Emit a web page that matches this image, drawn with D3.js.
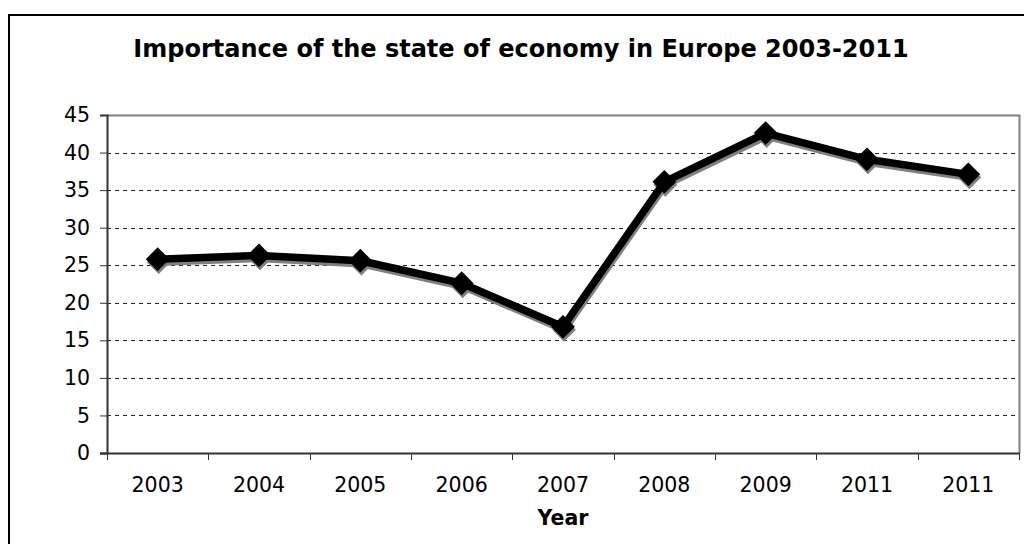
<!DOCTYPE html>
<html>
<head>
<meta charset="utf-8">
<script src="https://cdn.jsdelivr.net/npm/d3@7"></script>
<style>
  html, body { margin: 0; padding: 0; background: #fff; }
  svg { display: block; }
  text { font-family: "DejaVu Sans", Verdana, sans-serif; fill: #000; }
</style>
</head>
<body>
<svg id="chart" width="1024" height="544"></svg>
<script>
// Survey share naming the state of the economy as an important issue
const years = ["2003", "2004", "2005", "2006", "2007", "2008", "2009", "2011", "2011"];
const values = [25.8, 26.3, 25.6, 22.6, 16.8, 36.1, 42.6, 39.1, 37.1];
const yTicks = [0, 5, 10, 15, 20, 25, 30, 35, 40, 45];
const titleText = "Importance of the state of economy in Europe 2003-2011";
const xTitle = "Year";

const svg = d3.select("#chart");
const W = 1024, H = 544;
const plot = { left: 107, right: 1019, top: 115, bottom: 453 };
const labelSize = 20.5;

// Outer chart frame (runs off the right and bottom edges)
svg.append("path")
  .attr("d", `M9,${H + 5} V15 H${W + 5}`)
  .attr("fill", "none")
  .attr("stroke", "#000")
  .attr("stroke-width", 2);

svg.append("text")
  .attr("x", 521)
  .attr("y", 57)
  .attr("text-anchor", "middle")
  .attr("font-size", 24)
  .attr("font-weight", "bold")
  .text(titleText);

const idx = years.map((d, i) => i);
const x = d3.scaleBand().domain(idx).range([plot.left, plot.right]).padding(0);
const y = d3.scaleLinear().domain([0, 45]).range([plot.bottom, plot.top]);

// Dashed gridlines
svg.append("g")
  .selectAll("line")
  .data(yTicks.filter(t => t > 0 && t < 45))
  .join("line")
  .attr("x1", plot.left).attr("x2", plot.right)
  .attr("y1", d => Math.round(y(d)) + 0.5).attr("y2", d => Math.round(y(d)) + 0.5)
  .attr("stroke", "#222")
  .attr("stroke-width", 1)
  .attr("stroke-dasharray", "4,4");

// Plot area border on top and right
svg.append("path")
  .attr("d", `M${plot.left},${plot.top + 0.5} H${plot.right + 0.5} V${plot.bottom}`)
  .attr("fill", "none")
  .attr("stroke", "#808080")
  .attr("stroke-width", 2);

// Y axis
const yAxis = svg.append("g")
  .attr("transform", `translate(${plot.left},0)`)
  .call(d3.axisLeft(y).tickValues(yTicks).tickSize(7).tickPadding(10));
yAxis.select(".domain").attr("stroke", "#333").attr("stroke-width", 2);
yAxis.selectAll(".tick line").attr("stroke", "#333");
yAxis.selectAll("text")
  .attr("font-size", labelSize)
  .attr("font-family", "DejaVu Sans, Verdana, sans-serif")
  .attr("fill", "#000");

// X axis: ticks on category boundaries, labels centred in each band
const xAxisG = svg.append("g").attr("transform", `translate(0,${plot.bottom})`);
xAxisG.append("line")
  .attr("x1", plot.left - 7).attr("x2", plot.right + 1)
  .attr("y1", 0.5).attr("y2", 0.5)
  .attr("stroke", "#333").attr("stroke-width", 2);
const bounds = idx.map(i => x(i)).concat([x(idx.length - 1) + x.bandwidth()]);
xAxisG.selectAll("line.tk")
  .data(bounds)
  .join("line")
  .attr("class", "tk")
  .attr("x1", d => Math.round(d) + 0.5).attr("x2", d => Math.round(d) + 0.5)
  .attr("y1", 0).attr("y2", 7)
  .attr("stroke", "#333");
xAxisG.selectAll("text")
  .data(idx)
  .join("text")
  .attr("x", i => x(i) + x.bandwidth() / 2)
  .attr("y", 39)
  .attr("text-anchor", "middle")
  .attr("font-size", labelSize)
  .text(i => years[i]);

svg.append("text")
  .attr("x", (plot.left + plot.right) / 2)
  .attr("y", 525)
  .attr("text-anchor", "middle")
  .attr("font-size", labelSize)
  .attr("font-weight", "bold")
  .text(xTitle);

// Series line with drop shadow
const cx = i => x(i) + x.bandwidth() / 2;
const line = d3.line().x((d, i) => cx(i)).y(d => y(d));
const diamond = d3.symbol().type(d3.symbolDiamond2).size(360);

function drawSeries(g, color, dx, dy) {
  g.attr("transform", `translate(${dx},${dy})`);
  g.append("path")
    .datum(values)
    .attr("d", line)
    .attr("fill", "none")
    .attr("stroke", color)
    .attr("stroke-width", 7.5)
    .attr("stroke-linejoin", "round");
  g.selectAll("path.mk")
    .data(values)
    .join("path")
    .attr("class", "mk")
    .attr("d", diamond)
    .attr("transform", (d, i) => `translate(${cx(i)},${y(d)})`)
    .attr("fill", color);
}
drawSeries(svg.append("g"), "#808080", 1, 3);
drawSeries(svg.append("g"), "#000", 0, 0);
</script>
</body>
</html>
